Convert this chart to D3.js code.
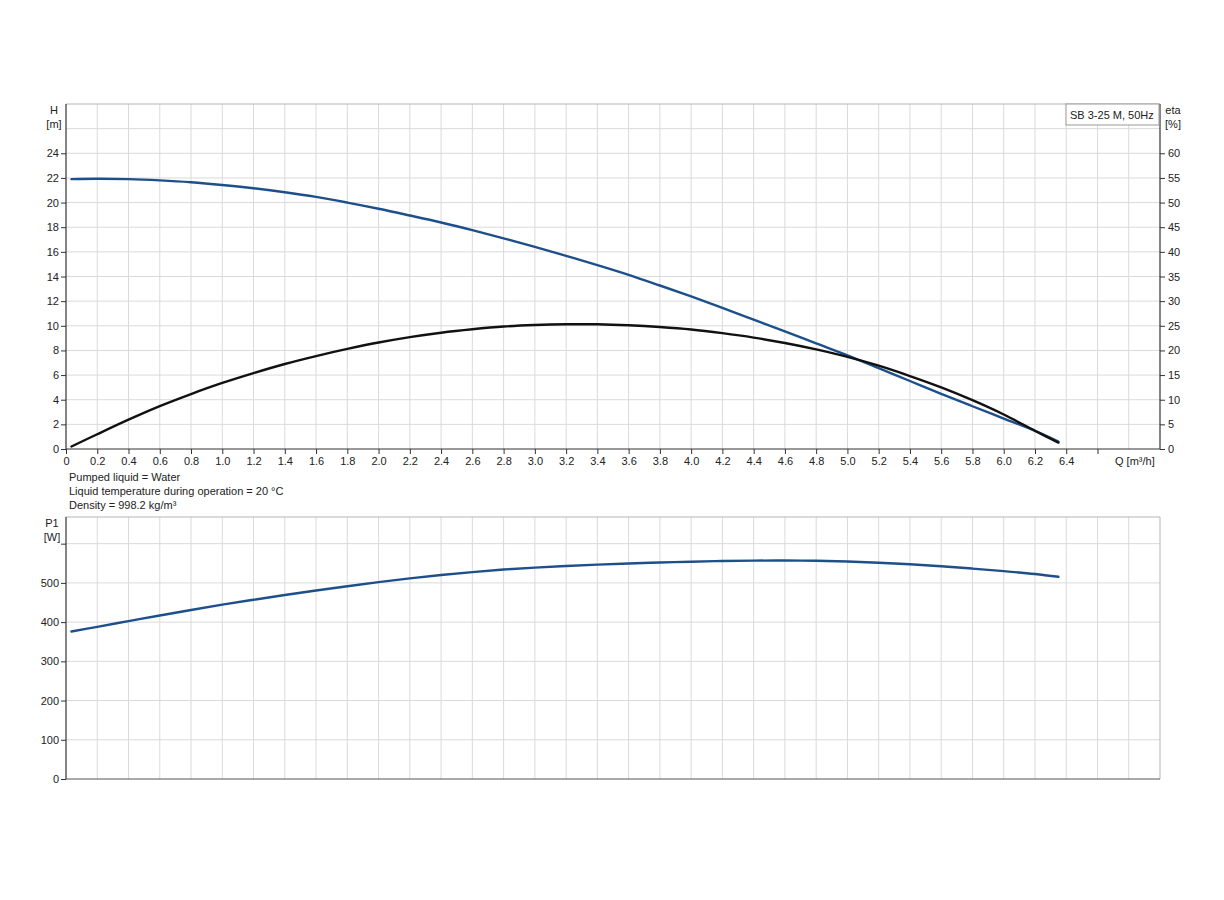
<!DOCTYPE html>
<html>
<head>
<meta charset="utf-8">
<script src="https://cdn.jsdelivr.net/npm/d3@7/dist/d3.min.js"></script>
<style>
  html, body { margin: 0; padding: 0; background: #fff; }
  svg { display: block; }
  text { font-family: "Liberation Sans", Arial, sans-serif; fill: #222; }
</style>
</head>
<body>
<svg id="chart" width="1224" height="900"></svg>
<script>
// ---------- Data ----------
const flow = [0.035, 0.2, 0.4, 0.6, 0.8, 1.0, 1.2, 1.4, 1.6, 1.8, 2.0, 2.2, 2.4, 2.6, 2.8, 3.0,
  3.2, 3.4, 3.6, 3.8, 4.0, 4.2, 4.4, 4.6, 4.8, 5.0, 5.2, 5.4, 5.6, 5.8, 6.0, 6.2, 6.35];
const head = [21.9, 21.93, 21.9, 21.8, 21.65, 21.43, 21.16, 20.84, 20.46, 20.0, 19.5, 18.95, 18.38,
  17.76, 17.1, 16.4, 15.67, 14.93, 14.14, 13.27, 12.38, 11.45, 10.5, 9.55, 8.57, 7.6, 6.56, 5.52,
  4.48, 3.47, 2.47, 1.47, 0.6];
const eta = [0.5, 3.0, 5.95, 8.7, 11.15, 13.4, 15.4, 17.25, 18.85, 20.3, 21.6, 22.7, 23.6, 24.3,
  24.85, 25.15, 25.3, 25.3, 25.1, 24.75, 24.25, 23.5, 22.6, 21.5, 20.2, 18.7, 16.9, 14.8, 12.5,
  9.9, 7.0, 3.7, 1.3];
const power = [376, 388, 402.5, 417, 431, 444.5, 457, 469, 480.5, 491.5, 502, 511.5, 520, 527.5,
  534, 539, 543, 546.5, 549.5, 552, 554, 555.8, 556.8, 557, 556.3, 554.5, 551.5, 547.5, 542.5,
  536.5, 530, 522.5, 515.5];

const qTicks = d3.range(0, 34).map(i => +(i * 0.2).toFixed(1));   // 0 .. 6.6
const qGrid = d3.range(1, 35).map(i => +(i * 0.2).toFixed(1));    // 0.2 .. 6.8
const hTicks = [0, 2, 4, 6, 8, 10, 12, 14, 16, 18, 20, 22, 24];
const hGrid = [2, 4, 6, 8, 10, 12, 14, 16, 18, 20, 22, 24, 26];
const etaTicks = [0, 5, 10, 15, 20, 25, 30, 35, 40, 45, 50, 55, 60];
const pTicks = [0, 100, 200, 300, 400, 500, 600];
const infoLines = ["Pumped liquid = Water", "Liquid temperature during operation = 20 °C", "Density = 998.2 kg/m³"];
const legendText = "SB 3-25 M, 50Hz";

// ---------- Layout ----------
const svg = d3.select("#chart");
const L = 66, R = 1160;
const T1 = 104, B1 = 449;
const T2 = 517, B2 = 779;

const x = d3.scaleLinear().domain([0, 7]).range([L, R]);
const yH = d3.scaleLinear().domain([0, 28]).range([B1, T1]);
const yE = d3.scaleLinear().domain([0, 70]).range([B1, T1]);
const yP = d3.scaleLinear().domain([0, 668]).range([B2, T2]);

const gridColor = "#dadada";
const frameColor = "#b5b5b5";
const axisColor = "#333";
const blue = "#1d4f8b";

function styleAxis(g) {
  g.selectAll("text").style("font-size", "11px").style("font-family", '"Liberation Sans", Arial, sans-serif').attr("fill", "#222");
  g.selectAll(".tick line").attr("stroke", axisColor);
  g.select(".domain").attr("stroke", axisColor).attr("stroke-width", 1.2);
}

// ---------- Top panel ----------
svg.append("g").selectAll("line").data(qGrid).join("line")
  .attr("x1", d => x(d)).attr("x2", d => x(d)).attr("y1", T1).attr("y2", B1)
  .attr("stroke", gridColor).attr("stroke-width", 1);
svg.append("g").selectAll("line").data(hGrid).join("line")
  .attr("x1", L).attr("x2", R).attr("y1", d => yH(d)).attr("y2", d => yH(d))
  .attr("stroke", gridColor).attr("stroke-width", 1);
svg.append("line").attr("x1", L).attr("x2", R).attr("y1", T1).attr("y2", T1)
  .attr("stroke", frameColor);

const xAxis = d3.axisBottom(x).tickValues(qTicks).tickSize(5).tickPadding(3).tickSizeOuter(0)
  .tickFormat(d => d === 0 ? "0" : (d > 6.5 ? "" : d.toFixed(1)));
svg.append("g").attr("transform", `translate(0,${B1})`).call(xAxis).call(g => {
  styleAxis(g);
  g.select(".domain").attr("d", `M${L},0H${R}`);
});

const yHAxis = d3.axisLeft(yH).tickValues(hTicks).tickSize(5).tickPadding(2).tickSizeOuter(0)
  .tickFormat(d3.format("d"));
svg.append("g").attr("transform", `translate(${L},0)`).call(yHAxis).call(g => {
  styleAxis(g);
  g.select(".domain").attr("d", `M0,${T1}V${B1}`);
});

const yEAxis = d3.axisRight(yE).tickValues(etaTicks).tickSize(5).tickPadding(3).tickSizeOuter(0)
  .tickFormat(d3.format("d"));
svg.append("g").attr("transform", `translate(${R},0)`).call(yEAxis).call(g => {
  styleAxis(g);
  g.select(".domain").attr("d", `M0,${T1}V${B1}`);
});

const lbl = (t, px, py, anchor = "middle") => svg.append("text").attr("x", px).attr("y", py)
  .attr("text-anchor", anchor).style("font-size", "11px").text(t);
lbl("H", 54, 114);
lbl("[m]", 54, 127.5);
lbl("eta", 1173, 114);
lbl("[%]", 1173, 127.5);
lbl("Q [m³/h]", 1115, 465, "start");

svg.append("rect").attr("x", 1066).attr("y", T1).attr("width", 93).attr("height", 21)
  .attr("fill", "#fff").attr("stroke", "#999").attr("stroke-width", 1);
lbl(legendText, 1070, 119, "start");

const curve = d3.curveCatmullRom.alpha(0.5);
const lineH = d3.line().x((d, i) => x(flow[i])).y(d => yH(d)).curve(curve);
const lineE = d3.line().x((d, i) => x(flow[i])).y(d => yE(d)).curve(curve);
const lineP = d3.line().x((d, i) => x(flow[i])).y(d => yP(d)).curve(curve);

svg.append("path").attr("d", lineH(head)).attr("fill", "none")
  .attr("stroke", blue).attr("stroke-width", 2.4).attr("stroke-linecap", "round");
svg.append("path").attr("d", lineE(eta)).attr("fill", "none")
  .attr("stroke", "#111").attr("stroke-width", 2.4).attr("stroke-linecap", "round");

infoLines.forEach((t, i) => lbl(t, 69, 481 + i * 14, "start"));

// ---------- Bottom panel ----------
svg.append("g").selectAll("line").data(qGrid).join("line")
  .attr("x1", d => x(d)).attr("x2", d => x(d)).attr("y1", T2).attr("y2", B2)
  .attr("stroke", gridColor).attr("stroke-width", 1);
svg.append("g").selectAll("line").data(pTicks.slice(1)).join("line")
  .attr("x1", L).attr("x2", R).attr("y1", d => yP(d)).attr("y2", d => yP(d))
  .attr("stroke", gridColor).attr("stroke-width", 1);
svg.append("path").attr("d", `M${L},${T2}H${R}V${B2}`).attr("fill", "none").attr("stroke", frameColor);
svg.append("line").attr("x1", L).attr("x2", R).attr("y1", B2).attr("y2", B2)
  .attr("stroke", "#555").attr("stroke-width", 1.2);

const yPAxis = d3.axisLeft(yP).tickValues(pTicks).tickSize(5).tickPadding(2).tickSizeOuter(0)
  .tickFormat(d => d === 600 ? "" : d3.format("d")(d));
svg.append("g").attr("transform", `translate(${L},0)`).call(yPAxis).call(g => {
  styleAxis(g);
  g.select(".domain").attr("d", `M0,${T2}V${B2}`);
});
lbl("P1", 52, 526.5);
lbl("[W]", 52, 540.5);

svg.append("path").attr("d", lineP(power)).attr("fill", "none")
  .attr("stroke", blue).attr("stroke-width", 2.4).attr("stroke-linecap", "round");
</script>
</body>
</html>
